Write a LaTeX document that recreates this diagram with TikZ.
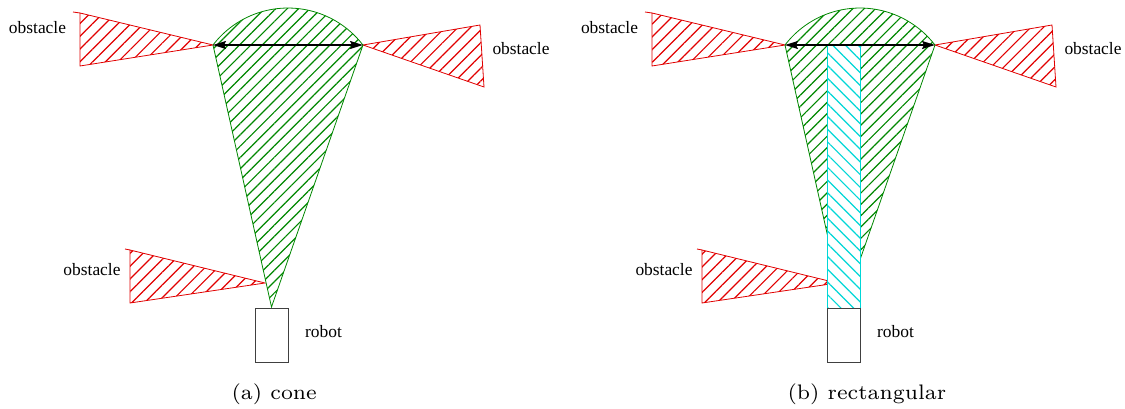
\documentclass[tikz,border=0pt]{standalone}
\usepackage{fontspec}
\newfontfamily\labelfont{Liberation Serif}
\usetikzlibrary{patterns.meta,arrows.meta}
\definecolor{obsred}{RGB}{225,0,0}
\definecolor{fsgreen}{RGB}{0,135,0}
\definecolor{rectcyan}{RGB}{0,215,215}
\tikzset{
  obstacle/.style={draw=obsred, line width=0.8pt, pattern={Lines[angle=45,distance=9pt,line width=1.2pt]}, pattern color=obsred},
  freespace/.style={draw=fsgreen, line width=0.8pt, pattern={Lines[angle=45,distance=8pt,line width=1.2pt]}, pattern color=fsgreen},
  corridor/.style={draw=rectcyan, line width=1pt, preaction={fill=white}, pattern={Lines[angle=-45,distance=9pt,line width=1.2pt]}, pattern color=rectcyan},
  robotbox/.style={draw=black!75, line width=1pt},
  widthline/.style={line width=1.4pt, {Stealth[length=13pt,width=8pt,inset=2pt]}-{Stealth[length=13pt,width=8pt,inset=2pt]}},
  lbl/.style={font=\labelfont\fontsize{17.4}{20}\selectfont, inner sep=0pt},
  captext/.style={font=\fontsize{7}{8}\selectfont, scale=3, inner sep=0pt, anchor=west},
}
\begin{document}
\begin{tikzpicture}[x=1pt,y=-1pt]
\useasboundingbox (0,0) rectangle (1125,409);
\foreach \dx/\panel in {0/a,572/b}{
\begin{scope}[xshift=\dx pt]
  \coordinate (L\panel) at (213,45);
  \coordinate (R\panel) at (363,45);
  \coordinate (A\panel) at (271.5,307);
  \draw[obstacle] (80,13) -- (L\panel) -- (80,66) -- cycle;
  \draw[obsred, line width=0.8pt] (73,12) -- (80,13);
  \draw[obstacle] (R\panel) -- (480,25) -- (484,87) -- cycle;
  \draw[obstacle] (130,250) -- (265,283) -- (130,303) -- cycle;
  \draw[obsred, line width=0.8pt] (125,249) -- (130,250);
  \draw[freespace] (A\panel) -- (L\panel) arc[start angle=-142.5, end angle=-37.5, radius=94.5] -- (R\panel) -- cycle;
\end{scope}
}
\draw[corridor] (827,45) rectangle (860,308);
\foreach \dx/\panel in {0/a,572/b}{
\begin{scope}[xshift=\dx pt]
  \draw[widthline] (L\panel) -- (R\panel);
  \node[robotbox, minimum width=33pt, minimum height=54pt, inner sep=0pt] (robot\panel) at (271.5,335) {};
  \node[lbl] (o1\panel) at (37.5,28) {obstacle};
  \node[lbl] (o2\panel) at (521,49) {obstacle};
  \node[lbl] (o3\panel) at (92,270) {obstacle};
  \node[lbl] (rl\panel) at (323.5,332) {robot};
\end{scope}
}
\node[captext] (capa) at (231,394) {(a)\ cone};
\node[captext] (capb) at (787,394) {(b)\ rectangular};
\end{tikzpicture}
\end{document}
